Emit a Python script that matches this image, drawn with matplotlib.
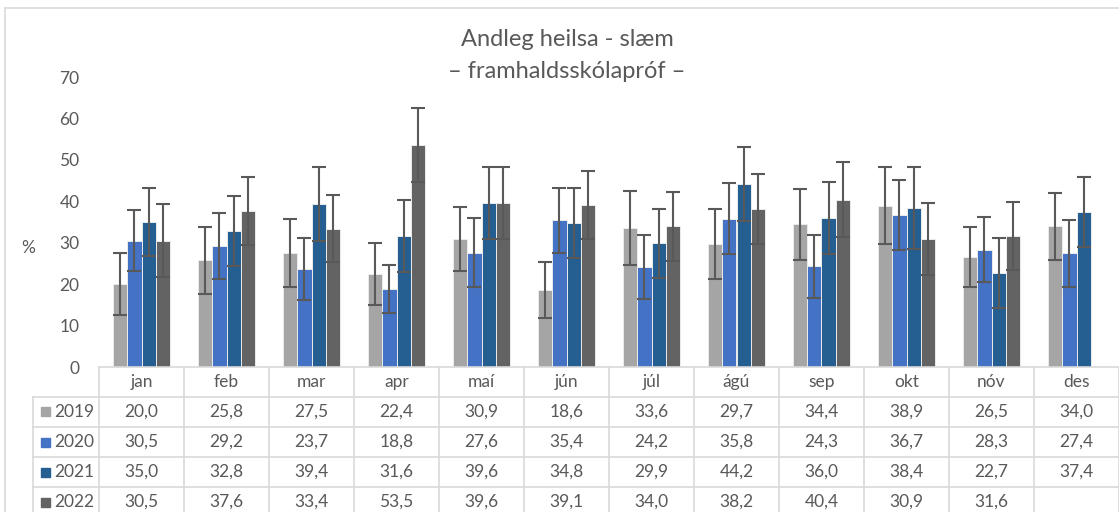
import numpy as np
import matplotlib.pyplot as plt
from matplotlib.transforms import blended_transform_factory
from matplotlib.patches import Rectangle

plt.rcParams['font.family'] = ['Lato', 'DejaVu Sans']

# data
months = ["jan", "feb", "mar", "apr", "maí", "jún", "júl", "ágú", "sep", "okt", "nóv", "des"]
years = ["2019", "2020", "2021", "2022"]
v2019 = [20.0, 25.8, 27.5, 22.4, 30.9, 18.6, 33.6, 29.7, 34.4, 38.9, 26.5, 34.0]
v2020 = [30.5, 29.2, 23.7, 18.8, 27.6, 35.4, 24.2, 35.8, 24.3, 36.7, 28.3, 27.4]
v2021 = [35.0, 32.8, 39.4, 31.6, 39.6, 34.8, 29.9, 44.2, 36.0, 38.4, 22.7, 37.4]
v2022 = [30.5, 37.6, 33.4, 53.5, 39.6, 39.1, 34.0, 38.2, 40.4, 30.9, 31.6, np.nan]
# error bar half widths
e2019 = [7.4, 8.1, 8.3, 7.5, 7.7, 6.7, 8.9, 8.5, 8.5, 9.3, 7.3, 8.1]
e2020 = [7.4, 7.9, 7.5, 5.8, 8.3, 7.9, 7.7, 8.5, 7.6, 8.5, 7.9, 8.1]
e2021 = [8.1, 8.4, 8.9, 8.7, 8.7, 8.5, 8.3, 8.9, 8.7, 9.9, 8.5, 8.5]
e2022 = [8.8, 8.2, 8.1, 8.9, 8.7, 8.3, 8.3, 8.5, 9.1, 8.7, 8.3, np.nan]

series = [v2019, v2020, v2021, v2022]
errors = [e2019, e2020, e2021, e2022]
colors = ["#A5A5A5", "#4472C4", "#255E91", "#636363"]

W, H = 1119, 512
txt = "#595959"
grid = "#D9D9D9"
fs = 12.5

fig = plt.figure(figsize=(W / 100, H / 100), dpi=100)
ax = fig.add_axes([99 / W, (H - 367) / H, 1020 / W, 290 / H])

# outer chart border
fig.patches.append(Rectangle((5 / W, -0.1), 1.2, (H - 8) / H + 0.1,
                             transform=fig.transFigure, fill=False,
                             edgecolor=grid, lw=1.2))

x = np.arange(len(months))
bw = 0.1667
for i, (vals, err, c) in enumerate(zip(series, errors, colors)):
    pos = x + (i - 1.5) * bw
    ax.bar(pos, vals, width=bw, color=c, edgecolor="#EBEBEB", lw=0.7, zorder=2)
    ax.errorbar(pos, vals, yerr=err, fmt="none", ecolor="#595959",
                elinewidth=1.5, capsize=5, capthick=1.5, zorder=3)

ax.set_xlim(-0.5, len(months) - 0.5)
ax.set_ylim(0, 70)
ax.set_yticks(range(0, 71, 10))
ax.tick_params(axis="y", length=0, pad=14, labelsize=fs, labelcolor=txt)
ax.set_xticks([])
for s in ax.spines.values():
    s.set_visible(False)
ax.text(-0.069, 0.41, "%", transform=ax.transAxes, fontsize=fs, color=txt,
        ha="center", va="center")

fig.text(567 / W, 1 - 40 / H, "Andleg heilsa - slæm", ha="center", va="center",
         fontsize=17, color=txt)
fig.text(567 / W, 1 - 72 / H, "– framhaldsskólapróf –", ha="center", va="center",
         fontsize=17, color=txt)

# data table below the axis
tr = blended_transform_factory(ax.transData, ax.transAxes)
px = 1 / 290  # one pixel in axes-fraction units
cw = 85  # pixels per category
rows = [0, -29.5, -60, -90, -120, -150]
left = -0.5 - 66 / cw
lkw = dict(color=grid, lw=1.2, transform=tr, clip_on=False)

ax.plot([-0.5, 11.5], [0, 0], **lkw)
ax.plot([left, 11.5], [rows[1] * px] * 2, **lkw)
for r in rows[2:]:
    ax.plot([left, 11.5], [r * px] * 2, **lkw)
ax.plot([left, left], [rows[1] * px, rows[-1] * px], **lkw)
for k in range(len(months) + 1):
    ax.plot([k - 0.5, k - 0.5], [0, rows[-1] * px], **lkw)

for k, m in enumerate(months):
    ax.text(k, (rows[0] + rows[1]) / 2 * px, m, transform=tr, ha="center",
            va="center", fontsize=fs, color=txt, clip_on=False)

for j, (yr, vals, c) in enumerate(zip(years, series, colors)):
    yc = (rows[j + 1] + rows[j + 2]) / 2 * px
    ax.add_patch(Rectangle((left + 8 / cw, yc - 4.5 * px), 9 / cw, 9 * px,
                           transform=tr, color=c, clip_on=False))
    ax.text(left + 21 / cw, yc, yr, transform=tr, ha="left", va="center",
            fontsize=fs, color=txt, clip_on=False)
    for k, v in enumerate(vals):
        if np.isnan(v):
            continue
        ax.text(k, yc, f"{v:.1f}".replace(".", ","), transform=tr,
                ha="center", va="center", fontsize=fs, color=txt, clip_on=False)

fig.savefig("out.png", dpi=100)
